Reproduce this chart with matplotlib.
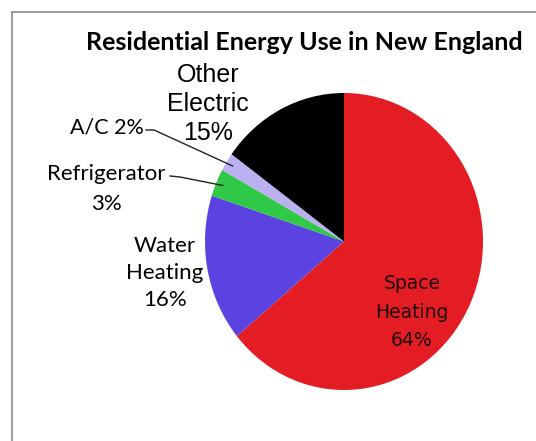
import numpy as np
import matplotlib.pyplot as plt

W, H = 536, 441

labels = ["Space\nHeating\n64%", "Water\nHeating\n16%", "Refrigerator\n3%", "A/C 2%", "Other\nElectric\n15%"]
shares = [64, 16, 3, 2, 15]
colors = ["#e41d24", "#5a43e0", "#30c947", "#bbb0f2", "#000000"]

title = "Residential Energy Use in New England"

fig = plt.figure(figsize=(W / 100, H / 100), dpi=100)

# pie centre and radii in pixels (from top-left); the original is slightly oval
cx, cy, rx, ry = 344, 241.5, 139, 148.5

ax = fig.add_axes([0, 0, 1, 1])
wedges, _ = ax.pie(shares, colors=colors, startangle=90, counterclock=False,
                   wedgeprops=dict(linewidth=0))
ax.set_aspect("auto")
ax.set_xlim(-cx / rx, (W - cx) / rx)
ax.set_ylim(-(H - cy) / ry, cy / ry)
ax.axis("off")

# overlay in pixel coordinates for the text and leader lines
tx = fig.add_axes([0, 0, 1, 1], facecolor="none")
tx.set_xlim(0, W)
tx.set_ylim(H, 0)
tx.axis("off")

# frame around the picture
tx.plot([12, W], [12, 12], color="#8a8a8a", lw=1.2)
tx.plot([12, 12], [12, H], color="#8a8a8a", lw=1.2)

tx.text(304, 43, title, ha="center", va="center", fontsize=18,
        fontweight="bold", family="Lato")

# labels
tx.text(412, 312, labels[0], ha="center", va="center", fontsize=13.5,
        color="#1e0505", family="DejaVu Sans", linespacing=1.65)
tx.text(165, 273, labels[1], ha="center", va="center", fontsize=16,
        family="Lato", linespacing=1.42)
tx.text(106, 189, labels[2], ha="center", va="center", fontsize=16,
        family="Lato", linespacing=1.6)
tx.text(107, 128, labels[3], ha="center", va="center", fontsize=15.5,
        family="Lato")
tx.text(208, 104, labels[4], ha="center", va="center", fontsize=18,
        family="Liberation Sans", linespacing=1.25)


# leader lines to the small slices
def edge_point(i, frac=0.95):
    w = wedges[i]
    ang = np.deg2rad((w.theta1 + w.theta2) / 2)
    return cx + frac * rx * np.cos(ang), cy - frac * ry * np.sin(ang)


ex, ey = edge_point(3)
tx.plot([146, 154, ex], [130, 130, ey], color="#222222", lw=1)
ex, ey = edge_point(2)
tx.plot([170, 180, ex], [176, 177, ey], color="#222222", lw=1)

fig.savefig("out.png", dpi=100)
